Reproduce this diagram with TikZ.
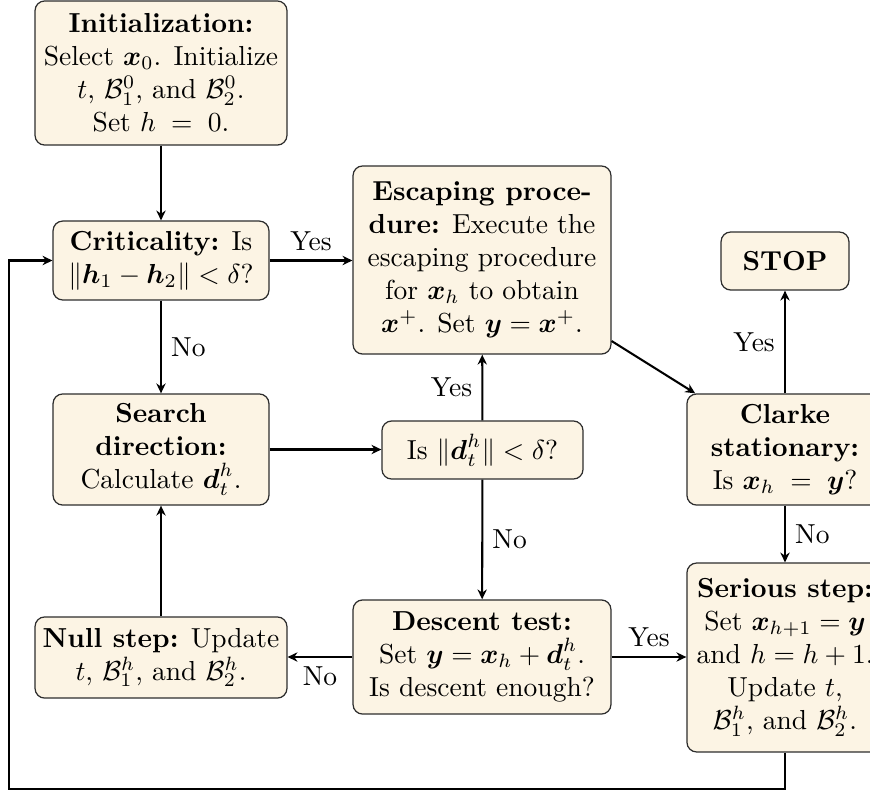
\documentclass[tikz,border=0pt]{standalone}
\usepackage{amsmath,amssymb}
\usetikzlibrary{arrows.meta}
\definecolor{boxfill}{RGB}{252,244,228}
\definecolor{boxline}{RGB}{45,45,45}
\tikzset{
  proc/.style={draw=boxline, fill=boxfill, line width=0.45pt, rounded corners=3.5pt,
    align=center, inner sep=2pt},
  flow/.style={line width=0.75pt, -{Stealth[length=3.6pt,width=3.4pt]}},
}
\newcommand{\bv}[1]{\boldsymbol{#1}}
\begin{document}
\begin{tikzpicture}[x=0.363636pt, y=-0.363636pt]
\useasboundingbox (0,0) rectangle (870,795);

% left column
\node[proc, minimum width=91.6pt, minimum height=52.4pt] (init) at (161,73)
  {\textbf{Initialization:}\\ Select $\bv{x}_0$. Initialize\\ $t$, $\mathcal{B}_1^0$, and $\mathcal{B}_2^0$.\\ Set $h\;=\;0$.};
\node[proc, minimum width=78.5pt, minimum height=28.7pt] (crit) at (161,260.5)
  {\textbf{Criticality:} Is\\ $\|\bv{h}_1-\bv{h}_2\|<\delta$?};
\node[proc, minimum width=78.5pt, minimum height=40.4pt] (search) at (161,449.5)
  {\textbf{Search}\\ \textbf{direction:}\\ Calculate $\bv{d}_t^h$.};
\node[proc, minimum width=91.6pt, minimum height=29.5pt] (null) at (161,657.5)
  {\textbf{Null step:} Update\\ $t$, $\mathcal{B}_1^h$, and $\mathcal{B}_2^h$.};

% middle column
\node[proc, minimum width=93.8pt, minimum height=68.4pt] (esc) at (482,260)
  {\textbf{Escaping proce-}\\ \textbf{dure:} Execute the\\ escaping procedure\\ for $\bv{x}_h$ to obtain\\ $\bv{x}^+$. Set $\bv{y}=\bv{x}^+$.};
\node[proc, minimum width=73.1pt, minimum height=21.1pt] (is) at (482.5,450)
  {Is $\|\bv{d}_t^h\|<\delta$?};
\node[proc, minimum width=93.8pt, minimum height=41.5pt] (descent) at (482,657)
  {\textbf{Descent test:}\\ Set $\bv{y}=\bv{x}_h+\bv{d}_t^h$.\\ Is descent enough?};

% right column
\node[proc, minimum width=46.5pt, minimum height=21.1pt] (stop) at (785,261)
  {\textbf{STOP}};
\node[proc, minimum width=71.3pt, minimum height=40.4pt] (clarke) at (785,449.5)
  {\textbf{Clarke}\\ \textbf{stationary:}\\ Is $\bv{x}_h\;=\;\bv{y}$?};
\node[proc, minimum width=71.3pt, minimum height=68.7pt] (serious) at (785,657.5)
  {\textbf{Serious step:}\\ Set $\bv{x}_{h+1}=\bv{y}$\\ and $h=h+1$.\\ Update $t$,\\ $\mathcal{B}_1^h$, and $\mathcal{B}_2^h$.};

\coordinate (back) at (9,789);

% connectors
\draw[flow] (init) -- (crit);
\draw[flow] (crit.east) -- node[above] {Yes} (crit.east -| esc.west);
\draw[flow] (crit) -- node[right] {No} (search);
\draw[flow] (search.east) -- (search.east -| is.west);
\draw[flow] (is) -- node[left] {Yes} (esc);
\draw[flow] (is) -- node[right] {No} (descent);
\draw[flow] (esc) -- (clarke);
\draw[flow] (clarke) -- node[left] {Yes} (stop);
\draw[flow] (clarke) -- node[right] {No} (serious);
\draw[flow] (descent.east) -- node[above] {Yes} (descent.east -| serious.west);
\draw[flow] (descent.west) -- node[below] {No} (descent.west -| null.east);
\draw[flow] (null) -- (search);
\draw[flow] (serious.south) |- (back) |- (crit.west);
\end{tikzpicture}
\end{document}
